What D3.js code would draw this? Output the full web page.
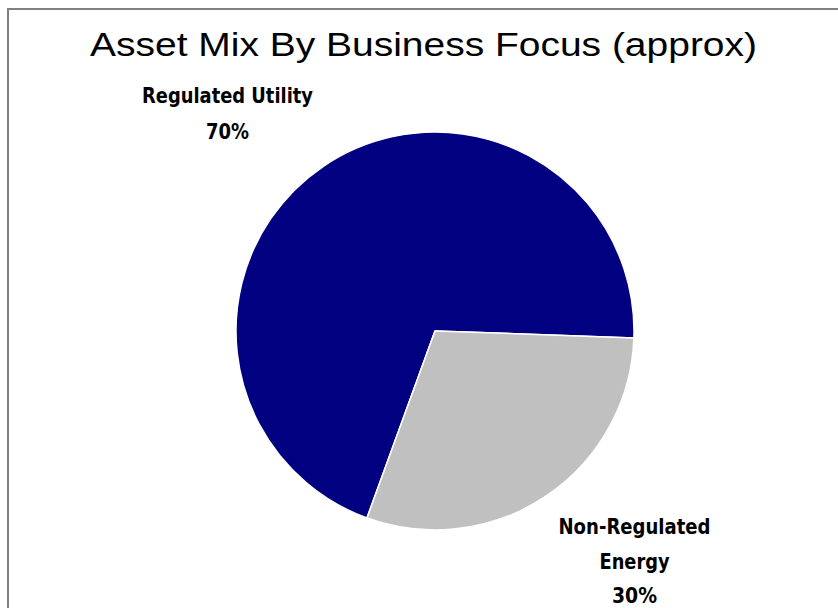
<!DOCTYPE html>
<html>
<head>
<meta charset="utf-8">
<script src="https://cdn.jsdelivr.net/npm/d3@7"></script>
<style>
  html, body { margin: 0; padding: 0; background: #fff; }
  svg { display: block; }
</style>
</head>
<body>
<div class="chart-area"></div>
<script>
// chart data
var categories = ["Regulated Utility", "Non-Regulated Energy"];
var shares = [70, 30];
var labelLines = [["Regulated Utility", "70%"], ["Non-Regulated", "Energy", "30%"]];
var colors = ["#000080", "#c0c0c0"];

var W = 838, H = 608;
var cx = 435, cy = 331, radius = 199;

var svg = d3.select(".chart-area").append("svg")
    .attr("width", W)
    .attr("height", H);

// chart area border (only top & left visible in the crop)
svg.append("rect")
    .attr("x", 8).attr("y", 9)
    .attr("width", 900).attr("height", 700)
    .attr("fill", "#fff")
    .attr("stroke", "#808080")
    .attr("stroke-width", 2);

// title
svg.append("text")
    .attr("x", 423.5)
    .attr("y", 56)
    .attr("text-anchor", "middle")
    .attr("textLength", 667)
    .attr("lengthAdjust", "spacingAndGlyphs")
    .style("font-family", "'Liberation Sans Narrow', 'Liberation Sans', Arial, sans-serif")
    .style("font-size", "33px")
    .text("Asset Mix By Business Focus (approx)");

var pie = d3.pie()
    .sort(null)
    .startAngle(200 * Math.PI / 180)
    .endAngle(560 * Math.PI / 180);

var arc = d3.arc()
    .innerRadius(0)
    .outerRadius(radius);

var g = svg.append("g")
    .attr("transform", "translate(" + cx + "," + cy + ")");

g.selectAll("path")
    .data(pie(shares))
    .enter().append("path")
    .attr("d", arc)
    .attr("fill", function(d, i){ return colors[i]; })
    .attr("stroke", "#fff")
    .attr("stroke-width", 1.5)
    .attr("stroke-linejoin", "round");

// data labels (placed where the original has them)
var labelPos = [
    {x: 227.5, y: 102.7, step: 36.6, widths: [171, 43]},
    {x: 634.5, y: 534, step: 34.5, widths: [152, 70, 45]}
];

categories.forEach(function(c, i){
    var p = labelPos[i];
    var t = svg.append("g").attr("class", "label");
    labelLines[i].forEach(function(line, j){
        t.append("text")
            .attr("x", p.x)
            .attr("y", p.y + j * p.step)
            .attr("text-anchor", "middle")
            .attr("textLength", p.widths[j])
            .attr("lengthAdjust", "spacingAndGlyphs")
            .style("font-family", "'Liberation Sans Narrow', 'DejaVu Sans Condensed', sans-serif")
            .style("font-weight", "bold")
            .style("font-size", "21px")
            .text(line);
    });
});
</script>
</body>
</html>
